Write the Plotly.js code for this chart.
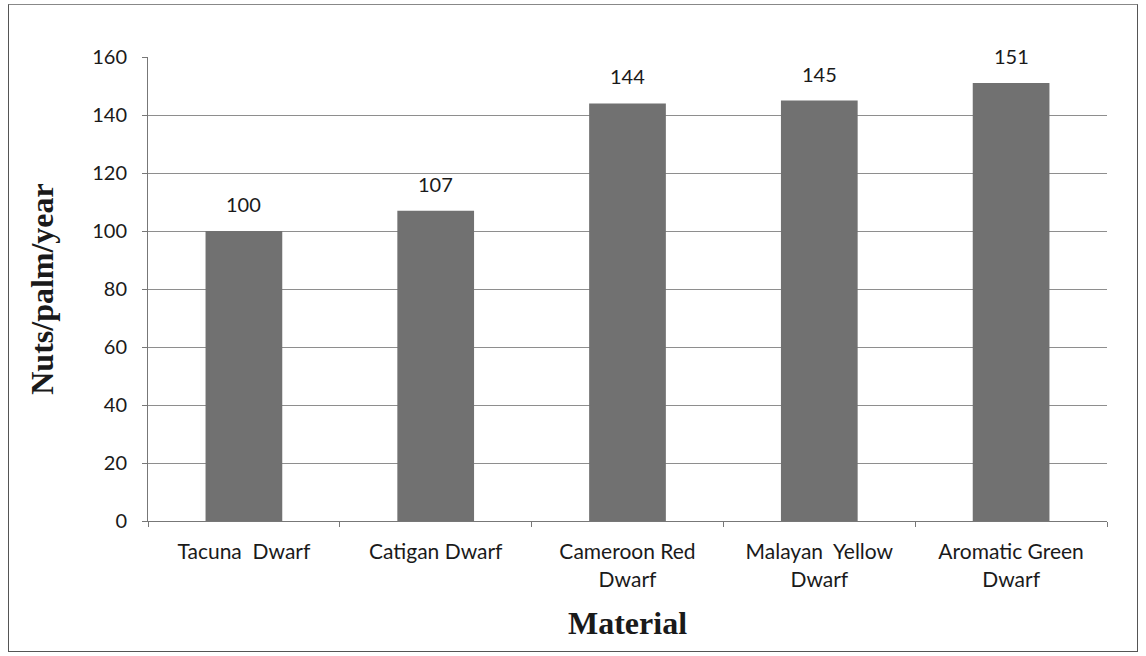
<!DOCTYPE html>
<html>
<head>
<meta charset="utf-8">
<script src="https://cdn.plot.ly/plotly-3.0.1.min.js"></script>
<style>
  html, body { margin: 0; padding: 0; background: #fff; }
  #wrap { position: relative; width: 1146px; height: 656px; }
  #chart { position: absolute; left: 0; top: 0; width: 1146px; height: 656px; }
  #frame { position: absolute; left: 8px; top: 4px; width: 1128px; height: 646px;
           border: 1.5px solid #555; border-top-color: #888; pointer-events: none; }
</style>
</head>
<body>
<div id="wrap">
  <div id="chart"></div>
  <div id="frame"></div>
</div>
<script>
const categories = ["Tacuna  Dwarf", "Catigan Dwarf", "Cameroon Red<br>Dwarf", "Malayan  Yellow<br>Dwarf", "Aromatic Green<br>Dwarf"];
const values = [100, 107, 144, 145, 151];
const valueLabels = ["100", "107", "144", "145", "151"];
const yTickVals = [0, 20, 40, 60, 80, 100, 120, 140, 160];

const labelFont = { family: "Lato, 'Open Sans', sans-serif", size: 20, color: "#1a1a1a" };
const catFont = { family: "Lato, 'Open Sans', sans-serif", size: 21, color: "#1a1a1a" };
const titleFont = { family: "'Liberation Serif', 'Times New Roman', serif", size: 32, color: "#1a1a1a", weight: "bold" };

const trace = {
  type: "bar",
  x: categories,
  y: values,
  marker: { color: "#717171", line: { width: 0 } },
  hoverinfo: "skip"
};

const annotations = categories.map((c, i) => ({
  x: c, y: values[i], xref: "x", yref: "y",
  text: valueLabels[i], showarrow: false,
  yanchor: "bottom", yshift: 13,
  font: labelFont
}));

const layout = {
  width: 1146, height: 656,
  margin: { l: 148, r: 39, t: 57, b: 135 },
  paper_bgcolor: "#fff", plot_bgcolor: "#fff",
  showlegend: false,
  bargap: 0.6,
  xaxis: {
    type: "category",
    tickfont: catFont,
    ticks: "outside", tickson: "boundaries", ticklen: 5, tickcolor: "#777",
    ticklabelstandoff: 12,
    showline: true, linecolor: "#777", linewidth: 1,
    showgrid: false,
    title: { text: "Material", font: titleFont, standoff: 22 }
  },
  yaxis: {
    range: [0, 160],
    tickvals: yTickVals,
    tickfont: labelFont,
    ticks: "outside", ticklen: 5, tickcolor: "#777",
    ticklabelstandoff: 11,
    showline: true, linecolor: "#777", linewidth: 1,
    showgrid: true, gridcolor: "#8e8e8e", gridwidth: 1,
    zeroline: false,
    title: { text: "Nuts/palm/year", font: titleFont, standoff: 28 }
  },
  annotations: annotations
};

Plotly.newPlot("chart", [trace], layout, { staticPlot: true, displayModeBar: false });
</script>
</body>
</html>
